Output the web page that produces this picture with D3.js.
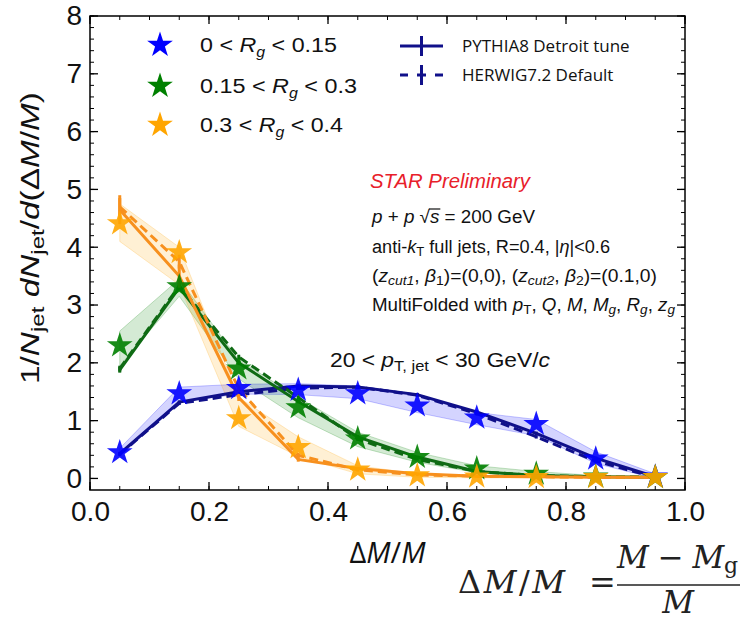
<!DOCTYPE html>
<html>
<head>
<meta charset="utf-8">
<script src="https://cdn.jsdelivr.net/npm/d3@7"></script>
<style>
  html, body { margin: 0; padding: 0; background: #fff; }
  svg { display: block; }
</style>
</head>
<body>
<svg id="chart" width="744" height="621" font-family="Liberation Sans, Arial, sans-serif"></svg>
<script>
// Bin centres in ΔM/M
const binCenters = [0.05, 0.15, 0.25, 0.35, 0.45, 0.55, 0.65, 0.75, 0.85, 0.95];

// Axis ticks
const xTickValues = [0.0, 0.2, 0.4, 0.6, 0.8, 1.0];
const yTickValues = [0, 1, 2, 3, 4, 5, 6, 7, 8];

// Unfolded data, one array per Rg bin
const dataRgLow  = [0.45, 1.47, 1.56, 1.53, 1.47, 1.26, 1.05, 0.94, 0.34, 0.03];
const dataRgMid  = [2.30, 3.32, 1.90, 1.23, 0.69, 0.37, 0.17, 0.08, 0.03, 0.02];
const dataRgHigh = [4.41, 3.91, 1.04, 0.54, 0.15, 0.05, 0.03, 0.02, 0.02, 0.02];

// Systematic uncertainty bands (lower / upper edges)
const sysLowRgLow   = [0.38, 1.32, 1.46, 1.45, 1.38, 1.14, 0.93, 0.74, 0.26, 0.00];
const sysHighRgLow  = [0.52, 1.58, 1.63, 1.64, 1.60, 1.45, 1.14, 1.02, 0.46, 0.08];
const sysLowRgMid   = [1.95, 3.15, 1.72, 1.05, 0.55, 0.28, 0.10, 0.04, 0.02, 0.01];
const sysHighRgMid  = [2.55, 3.45, 2.05, 1.40, 0.80, 0.45, 0.22, 0.12, 0.05, 0.03];
const sysLowRgHigh  = [4.10, 3.35, 0.90, 0.38, 0.08, 0.02, 0.01, 0.01, 0.01, 0.01];
const sysHighRgHigh = [4.75, 4.00, 1.40, 0.72, 0.22, 0.08, 0.05, 0.04, 0.03, 0.03];

// PYTHIA8 Detroit tune
const pythiaRgLow  = [0.43, 1.32, 1.50, 1.60, 1.58, 1.45, 1.15, 0.78, 0.35, 0.03];
const pythiaRgMid  = [1.88, 3.30, 2.00, 1.33, 0.72, 0.37, 0.12, 0.05, 0.03, 0.02];
const pythiaRgHigh = [4.65, 3.50, 1.40, 0.33, 0.17, 0.08, 0.04, 0.03, 0.02, 0.02];
const pythiaErrLow  = [0.03, 0.03, 0.03, 0.03, 0.03, 0.03, 0.03, 0.03, 0.03, 0.02];
const pythiaErrMid  = [0.05, 0.05, 0.04, 0.03, 0.03, 0.02, 0.02, 0.02, 0.01, 0.01];
const pythiaErrHigh = [0.25, 0.20, 0.06, 0.04, 0.03, 0.02, 0.02, 0.01, 0.01, 0.01];

// HERWIG7.2 Default
const herwigRgLow  = [0.42, 1.30, 1.45, 1.56, 1.58, 1.44, 1.12, 0.72, 0.30, 0.02];
const herwigRgMid  = [1.90, 3.33, 2.10, 1.40, 0.68, 0.33, 0.12, 0.05, 0.03, 0.02];
const herwigRgHigh = [4.70, 3.75, 1.55, 0.40, 0.15, 0.06, 0.04, 0.03, 0.02, 0.02];
const herwigErrLow  = [0.03, 0.03, 0.03, 0.03, 0.03, 0.03, 0.03, 0.03, 0.03, 0.02];
const herwigErrMid  = [0.05, 0.05, 0.04, 0.03, 0.03, 0.02, 0.02, 0.02, 0.01, 0.01];
const herwigErrHigh = [0.15, 0.12, 0.06, 0.04, 0.03, 0.02, 0.02, 0.01, 0.01, 0.01];

const seriesLabels = ["0 < ", "0.15 < ", "0.3 < "];
const seriesUppers = [" < 0.15", " < 0.3", " < 0.4"];

const series = [
  { data: dataRgLow,  lo: sysLowRgLow,  hi: sysHighRgLow,  py: pythiaRgLow,  pyErr: pythiaErrLow,  hw: herwigRgLow,  hwErr: herwigErrLow,
    star: "#0000ff", band: "#0000ff", line: "#10108a", legW: 137 },
  { data: dataRgMid,  lo: sysLowRgMid,  hi: sysHighRgMid,  py: pythiaRgMid,  pyErr: pythiaErrMid,  hw: herwigRgMid,  hwErr: herwigErrMid,
    star: "#008000", band: "#008000", line: "#0f6b14", legW: 157 },
  { data: dataRgHigh, lo: sysLowRgHigh, hi: sysHighRgHigh, py: pythiaRgHigh, pyErr: pythiaErrHigh, hw: herwigRgHigh, hwErr: herwigErrHigh,
    star: "#ffa500", band: "#ffa500", line: "#f7901e", legW: 143 }
];

const svg = d3.select("#chart");
const margin = { left: 90, right: 685, top: 16, bottom: 490 };

const x = d3.scaleLinear().domain([0, 1]).range([margin.left, margin.right]);
const y = d3.scaleLinear().domain([-0.2, 8]).range([margin.bottom, margin.top]);

// clip to the frame
svg.append("defs").append("clipPath").attr("id", "frame")
  .append("rect").attr("x", margin.left).attr("y", margin.top)
  .attr("width", margin.right - margin.left).attr("height", margin.bottom - margin.top);
const plot = svg.append("g").attr("clip-path", "url(#frame)");

// uncertainty bands
const area = d3.area()
  .x(d => x(d.x)).y0(d => y(d.lo)).y1(d => y(d.hi));
series.forEach(s => {
  const pts = binCenters.map((c, i) => ({ x: c, lo: s.lo[i], hi: s.hi[i] }));
  plot.append("path").datum(pts)
    .attr("d", area)
    .attr("fill", s.band).attr("fill-opacity", 0.17)
    .attr("stroke", s.band).attr("stroke-opacity", 0.22).attr("stroke-width", 1);
});

// model curves with error bars
const line = d3.line().x(d => x(d.x)).y(d => y(d.v));
function drawModel(vals, errs, color, dashed) {
  const pts = binCenters.map((c, i) => ({ x: c, v: vals[i], e: errs[i] }));
  plot.append("path").datum(pts)
    .attr("d", line)
    .attr("fill", "none").attr("stroke", color).attr("stroke-width", 3)
    .attr("stroke-dasharray", dashed ? "9,5" : null);
  plot.selectAll(null).data(pts).enter().append("line")
    .attr("x1", d => x(d.x)).attr("x2", d => x(d.x))
    .attr("y1", d => y(d.v - d.e)).attr("y2", d => y(d.v + d.e))
    .attr("stroke", color).attr("stroke-width", 3);
}

const starPath = d3.symbol().type(d3.symbolStar).size(205);

series.forEach(s => {
  drawModel(s.hw, s.hwErr, s.line, true);
  drawModel(s.py, s.pyErr, s.line, false);
});

series.forEach(s => {
  plot.selectAll(null).data(binCenters.map((c, i) => ({ x: c, v: s.data[i] })))
    .enter().append("path")
    .attr("d", starPath)
    .attr("transform", d => `translate(${x(d.x)},${y(d.v)})`)
    .attr("fill", s.star).attr("fill-opacity", 0.9);
});

// frame
svg.append("rect")
  .attr("x", margin.left).attr("y", margin.top)
  .attr("width", margin.right - margin.left).attr("height", margin.bottom - margin.top)
  .attr("fill", "none").attr("stroke", "#000").attr("stroke-width", 1.5);

// inward ticks on all four sides
const xMinor = d3.range(0, 1.0001, 0.05);
const yMinor = d3.range(0, 8.0001, 0.2);
function ticksX(ypos, dir) {
  const g = svg.append("g");
  g.selectAll(null).data(xMinor).enter().append("line")
    .attr("x1", d => x(d)).attr("x2", d => x(d))
    .attr("y1", ypos).attr("y2", ypos + dir * 4)
    .attr("stroke", "#000").attr("stroke-width", 1);
  g.selectAll(null).data(xTickValues).enter().append("line")
    .attr("x1", d => x(d)).attr("x2", d => x(d))
    .attr("y1", ypos).attr("y2", ypos + dir * 8)
    .attr("stroke", "#000").attr("stroke-width", 1.3);
}
function ticksY(xpos, dir) {
  const g = svg.append("g");
  g.selectAll(null).data(yMinor).enter().append("line")
    .attr("y1", d => y(d)).attr("y2", d => y(d))
    .attr("x1", xpos).attr("x2", xpos + dir * 4)
    .attr("stroke", "#000").attr("stroke-width", 1);
  g.selectAll(null).data(yTickValues).enter().append("line")
    .attr("y1", d => y(d)).attr("y2", d => y(d))
    .attr("x1", xpos).attr("x2", xpos + dir * 8)
    .attr("stroke", "#000").attr("stroke-width", 1.3);
}
ticksX(margin.bottom, -1);
ticksX(margin.top, 1);
ticksY(margin.left, 1);
ticksY(margin.right, -1);

// tick labels via d3 axes (lines hidden, labels kept)
const xAxis = d3.axisBottom(x).tickValues(xTickValues).tickFormat(d3.format(".1f")).tickSize(0).tickPadding(11);
const gx = svg.append("g").attr("transform", `translate(0,${margin.bottom})`).call(xAxis);
gx.select(".domain").remove();
gx.selectAll("text").attr("font-size", 28).attr("font-family", "Liberation Sans, Arial, sans-serif").attr("fill", "#111");

const yAxis = d3.axisLeft(y).tickValues(yTickValues).tickFormat(d3.format("d")).tickSize(0).tickPadding(8);
const gy = svg.append("g").attr("transform", `translate(${margin.left},0)`).call(yAxis);
gy.select(".domain").remove();
gy.selectAll("text").attr("font-size", 28).attr("font-family", "Liberation Sans, Arial, sans-serif").attr("fill", "#111");

// axis titles
const xt = svg.append("text").attr("x", (margin.left + margin.right) / 2).attr("y", 563)
  .attr("text-anchor", "middle").attr("font-size", 29).attr("fill", "#111")
  .attr("font-family", "Open Sans, Liberation Sans, sans-serif");
xt.append("tspan").text("Δ");
xt.append("tspan").attr("font-style", "italic").text("M");
xt.append("tspan").text("/");
xt.append("tspan").attr("font-style", "italic").text("M");

const yt = svg.append("text").attr("transform", "translate(39,238) rotate(-90)")
  .attr("text-anchor", "middle").attr("font-size", 25).attr("fill", "#111")
  .attr("textLength", 292).attr("lengthAdjust", "spacingAndGlyphs");
yt.append("tspan").text("1/");
yt.append("tspan").attr("font-style", "italic").text("N");
yt.append("tspan").attr("font-size", 18).attr("dy", 5).text("jet");
yt.append("tspan").attr("dy", -5).text(" ");
yt.append("tspan").attr("font-style", "italic").text("dN");
yt.append("tspan").attr("font-size", 18).attr("dy", 5).text("jet");
yt.append("tspan").attr("dy", -5).text("/");
yt.append("tspan").attr("font-style", "italic").text("d");
yt.append("tspan").text("(Δ");
yt.append("tspan").attr("font-style", "italic").text("M");
yt.append("tspan").text("/");
yt.append("tspan").attr("font-style", "italic").text("M");
yt.append("tspan").text(")");

// legend: data stars
const legRows = [45, 86, 125];
series.forEach((s, i) => {
  svg.append("path").attr("d", starPath)
    .attr("transform", `translate(160,${legRows[i]})`)
    .attr("fill", s.star);
  const t = svg.append("text").attr("x", 200).attr("y", legRows[i] + 7)
    .attr("font-size", 20.5).attr("fill", "#111")
    .attr("textLength", s.legW).attr("lengthAdjust", "spacingAndGlyphs");
  t.append("tspan").text(seriesLabels[i]);
  t.append("tspan").attr("font-style", "italic").text("R");
  t.append("tspan").attr("font-style", "italic").attr("font-size", 14).attr("dy", 5).text("g");
  t.append("tspan").attr("dy", -5).text(seriesUppers[i]);
});

// legend: model curves
const modelRows = [
  { y: 46, label: "PYTHIA8 Detroit tune", dashed: false },
  { y: 75, label: "HERWIG7.2 Default", dashed: true }
];
modelRows.forEach(r => {
  if (r.dashed) {
    [[400, 408], [417, 426], [435, 443]].forEach(seg => {
      svg.append("line").attr("x1", seg[0]).attr("x2", seg[1]).attr("y1", r.y).attr("y2", r.y)
        .attr("stroke", "#10108a").attr("stroke-width", 3);
    });
  } else {
    svg.append("line").attr("x1", 400).attr("x2", 443).attr("y1", r.y).attr("y2", r.y)
      .attr("stroke", "#10108a").attr("stroke-width", 3);
  }
  svg.append("line").attr("x1", 421.5).attr("x2", 421.5).attr("y1", r.y - 10).attr("y2", r.y + 10)
    .attr("stroke", "#10108a").attr("stroke-width", 3);
  svg.append("text").attr("x", 462).attr("y", r.y + 6)
    .attr("font-family", "Open Sans, Lato, sans-serif").attr("font-size", 17).attr("fill", "#111")
    .text(r.label);
});

// annotations
svg.append("text").attr("x", 370).attr("y", 188)
  .attr("font-size", 20.5).attr("font-style", "italic").attr("fill", "#e8202a")
  .attr("textLength", 160).attr("lengthAdjust", "spacingAndGlyphs")
  .text("STAR Preliminary");

const ann = svg.append("g").attr("font-size", 18).attr("fill", "#111");
const subSize = 13;
// p+p √s = 200 GeV
const l1 = ann.append("text").attr("x", 372).attr("y", 223)
  .attr("textLength", 163).attr("lengthAdjust", "spacingAndGlyphs");
l1.append("tspan").attr("font-style", "italic").text("p");
l1.append("tspan").text(" + ");
l1.append("tspan").attr("font-style", "italic").text("p");
l1.append("tspan").text("  √");
l1.append("tspan").attr("font-style", "italic").text("s");
l1.append("tspan").text(" = 200 GeV");
{
  const n = l1.node();
  const ext = n.getExtentOfChar(7); // the "s" under the root sign
  ann.append("line").attr("x1", ext.x - 1).attr("x2", ext.x + ext.width + 1)
    .attr("y1", ext.y + 2).attr("y2", ext.y + 2).attr("stroke", "#111").attr("stroke-width", 1.2);
}

const l2 = ann.append("text").attr("x", 372).attr("y", 253)
  .attr("textLength", 238).attr("lengthAdjust", "spacingAndGlyphs");
l2.append("tspan").text("anti-");
l2.append("tspan").attr("font-style", "italic").text("k");
l2.append("tspan").attr("font-size", subSize).attr("dy", 3).text("T");
l2.append("tspan").attr("dy", -3).text(" full jets, R=0.4, |");
l2.append("tspan").attr("font-style", "italic").text("η");
l2.append("tspan").text("|<0.6");

const l3 = ann.append("text").attr("x", 372).attr("y", 282)
  .attr("textLength", 285).attr("lengthAdjust", "spacingAndGlyphs");
l3.append("tspan").text("(");
l3.append("tspan").attr("font-style", "italic").text("z");
l3.append("tspan").attr("font-style", "italic").attr("font-size", subSize).attr("dy", 3).text("cut1");
l3.append("tspan").attr("dy", -3).text(", ");
l3.append("tspan").attr("font-style", "italic").text("β");
l3.append("tspan").attr("font-size", subSize).attr("dy", 3).text("1");
l3.append("tspan").attr("dy", -3).text(")=(0,0), (");
l3.append("tspan").attr("font-style", "italic").text("z");
l3.append("tspan").attr("font-style", "italic").attr("font-size", subSize).attr("dy", 3).text("cut2");
l3.append("tspan").attr("dy", -3).text(", ");
l3.append("tspan").attr("font-style", "italic").text("β");
l3.append("tspan").attr("font-size", subSize).attr("dy", 3).text("2");
l3.append("tspan").attr("dy", -3).text(")=(0.1,0)");

const l4 = ann.append("text").attr("x", 372).attr("y", 311)
  .attr("textLength", 303).attr("lengthAdjust", "spacingAndGlyphs");
l4.append("tspan").text("MultiFolded with ");
l4.append("tspan").attr("font-style", "italic").text("p");
l4.append("tspan").attr("font-size", subSize).attr("dy", 3).text("T");
l4.append("tspan").attr("dy", -3).text(", ");
l4.append("tspan").attr("font-style", "italic").text("Q");
l4.append("tspan").text(", ");
l4.append("tspan").attr("font-style", "italic").text("M");
l4.append("tspan").text(", ");
l4.append("tspan").attr("font-style", "italic").text("M");
l4.append("tspan").attr("font-style", "italic").attr("font-size", subSize).attr("dy", 3).text("g");
l4.append("tspan").attr("dy", -3).text(", ");
l4.append("tspan").attr("font-style", "italic").text("R");
l4.append("tspan").attr("font-style", "italic").attr("font-size", subSize).attr("dy", 3).text("g");
l4.append("tspan").attr("dy", -3).text(", ");
l4.append("tspan").attr("font-style", "italic").text("z");
l4.append("tspan").attr("font-style", "italic").attr("font-size", subSize).attr("dy", 3).text("g");

const l5 = ann.append("text").attr("x", 330).attr("y", 367).attr("font-size", 20)
  .attr("textLength", 220).attr("lengthAdjust", "spacingAndGlyphs");
l5.append("tspan").text("20 < ");
l5.append("tspan").attr("font-style", "italic").text("p");
l5.append("tspan").attr("font-size", 14.5).attr("dy", 4).text("T, jet");
l5.append("tspan").attr("dy", -4).text(" < 30 GeV/");
l5.append("tspan").attr("font-style", "italic").text("c");

// definition of ΔM/M, set as a display fraction
const eq = svg.append("g").attr("font-family", "DejaVu Serif, Liberation Serif, serif")
  .attr("font-weight", 300).attr("fill", "#222");
const lhs = eq.append("text").attr("x", 458).attr("y", 593).attr("font-size", 32)
  .attr("textLength", 107).attr("lengthAdjust", "spacing");
lhs.append("tspan").text("Δ");
lhs.append("tspan").attr("font-style", "italic").text("M");
lhs.append("tspan").text("/");
lhs.append("tspan").attr("font-style", "italic").text("M");
eq.append("text").attr("x", 589).attr("y", 593).attr("font-size", 32).text("=");
const num = eq.append("text").attr("x", 617).attr("y", 568).attr("font-size", 31)
  .attr("textLength", 121).attr("lengthAdjust", "spacing");
num.append("tspan").attr("font-style", "italic").text("M");
num.append("tspan").text(" − ");
num.append("tspan").attr("font-style", "italic").text("M");
num.append("tspan").attr("font-size", 22).attr("dy", 5).text("g");
eq.append("line").attr("x1", 617).attr("x2", 740).attr("y1", 585).attr("y2", 585)
  .attr("stroke", "#222").attr("stroke-width", 1.3);
eq.append("text").attr("x", 678).attr("y", 613).attr("font-size", 31).attr("font-style", "italic")
  .attr("text-anchor", "middle").text("M");
</script>
</body>
</html>
